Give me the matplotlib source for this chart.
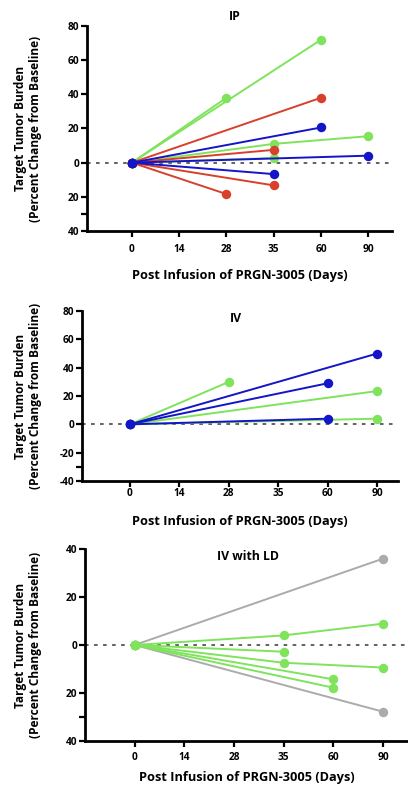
import matplotlib
matplotlib.use("Agg")
import matplotlib.pyplot as plt

plt.rcParams['font.family'] = ['Open Sans', 'DejaVu Sans']
plt.rcParams['font.weight'] = 'bold'

day_labels = ["0", "14", "28", "35", "60", "90"]

# IP panel: each series is (days, values, colour)
ip_days = [[0, 28], [0, 60], [0, 35, 90], [0, 35],
           [0, 60], [0, 35], [0, 35], [0, 28],
           [0, 60], [0, 90], [0, 35]]
ip_vals = [[0, 38], [0, 72], [0, 11, 15.5], [0, 2.7],
           [0, 38], [0, 7.5], [0, -13.3], [0, -18.4],
           [0, 20.6], [0, 4.1], [0, -6.7]]
ip_cols = ["green", "green", "green", "green",
           "red", "red", "red", "red",
           "blue", "blue", "blue"]

# IV panel
iv_days = [[0, 28], [0, 90], [0, 90], [0, 90], [0, 60], [0, 60]]
iv_vals = [[0, 30], [0, 23.5], [0, 4], [0, 50], [0, 29], [0, 4]]
iv_cols = ["green", "green", "green", "blue", "blue", "blue"]

# IV with LD panel
ld_days = [[0, 90], [0, 90], [0, 35, 90], [0, 35], [0, 35, 90], [0, 60], [0, 60]]
ld_vals = [[0, 36], [0, -27.8], [0, 4, 8.9], [0, -2.8], [0, -7.4, -9.4],
           [0, -14.3], [0, -17.8]]
ld_cols = ["gray", "gray", "green", "green", "green", "green", "green"]

palette = {"green": "#7fe35c", "red": "#d9402c", "blue": "#1414c8", "gray": "#ababab"}

W, H = 408, 790
PX = 100 / 72.0  # pixels per point
fig = plt.figure(figsize=(W / 100, H / 100), dpi=100)


def panel(box, xlim, ylim, yticks, ylabels, title, title_xy, days, vals, cols,
          ticklab_y, xlabel_y):
    l, t, r, b = box
    ax = fig.add_axes([l / W, 1 - b / H, (r - l) / W, (b - t) / H])
    for d, v, c in zip(days, vals, cols):
        xs = [day_labels.index(str(k)) + 1 for k in d]
        ax.plot(xs, v, color=palette[c], lw=1.4, marker="o", ms=6.8,
                markeredgewidth=0, solid_capstyle="round", zorder=3,
                clip_on=False)
    ax.axhline(0, color="#555555", lw=1.3, ls=(0, (2, 3)), zorder=2)
    ax.set_xlim(*xlim)
    ax.set_ylim(*ylim)
    ax.set_xticks(range(1, 7))
    ax.set_xticklabels(day_labels)
    ax.set_yticks(yticks)
    ax.set_yticklabels(ylabels)
    ax.set_yticks([-30], minor=True)
    for s in ["top", "right"]:
        ax.spines[s].set_visible(False)
    for s in ["left", "bottom"]:
        ax.spines[s].set_linewidth(2)
    ax.tick_params(axis="both", which="both", width=1.6, length=4,
                   labelsize=7.3, direction="out")
    ax.tick_params(axis="x", pad=max(((ticklab_y - b) - 4.5) / PX - 4, 0.5))
    ax.tick_params(axis="y", pad=1.5)
    fig.text(title_xy[0] / W, 1 - title_xy[1] / H, title, ha="center",
             va="center", fontsize=8.8, fontweight="bold")
    fig.text((l + r) / 2 / W, 1 - xlabel_y / H,
             "Post Infusion of PRGN-3005 (Days)", ha="center", va="center",
             fontsize=9.2, fontweight="bold")
    fig.text(28 / W, 1 - (t + b) / 2 / H,
             "Target Tumor Burden\n(Percent Change from Baseline)",
             ha="center", va="center", rotation=90, fontsize=8.6,
             fontweight="bold", linespacing=1.15)
    return ax


panel((87, 26, 392, 231), (0.05, 6.5), (-40, 80),
      [80, 60, 40, 20, 0, -20, -40], ["80", "60", "40", "20", "0", "20", "40"],
      "IP", (235, 17), ip_days, ip_vals, ip_cols, 248, 275)

panel((82, 311, 398, 481), (0.03, 6.42), (-40, 80),
      [80, 60, 40, 20, 0, -20, -40], ["80", "60", "40", "20", "0", "-20", "-40"],
      "IV", (236, 319), iv_days, iv_vals, iv_cols, 493, 522)

panel((85, 549, 408, 741), (0.0, 6.5), (-40, 40),
      [40, 20, 0, -20, -40], ["40", "20", "0", "20", "40"],
      "IV with LD", (248, 557), ld_days, ld_vals, ld_cols, 757, 777)

fig.savefig("out.png", dpi=100, facecolor="white")
